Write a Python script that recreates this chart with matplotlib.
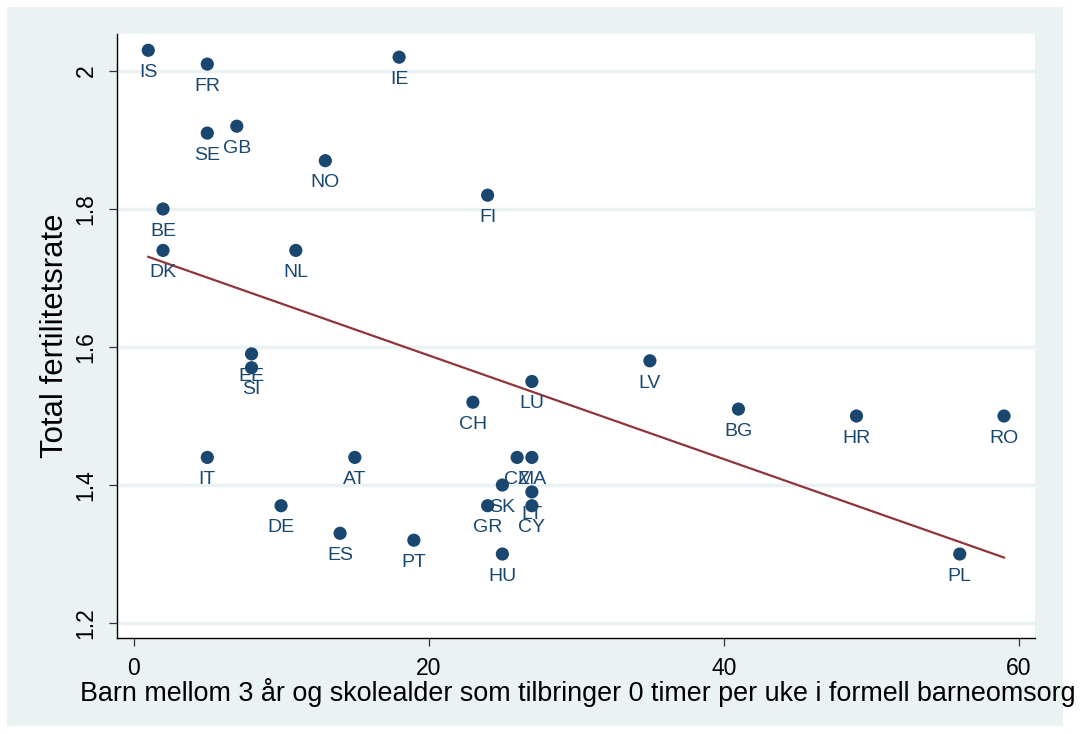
import numpy as np
import matplotlib
matplotlib.use("Agg")
import matplotlib.pyplot as plt
from matplotlib.patches import Rectangle

# Share of children (3 yrs to school age) with 0 hours/week of formal childcare
countries = ["IS", "FR", "IE", "SE", "GB", "NO", "FI", "BE", "DK", "NL",
             "EE", "SI", "LV", "LU", "CH", "BG", "HR", "RO", "IT", "AT",
             "CZ", "MA", "DE", "ES", "PT", "SK", "GR", "LT", "CY", "HU", "PL"]
no_childcare = [1, 5, 18, 5, 7, 13, 24, 2, 2, 11,
                8, 8, 35, 27, 23, 41, 49, 59, 5, 15,
                26, 27, 10, 14, 19, 25, 24, 27, 27, 25, 56]
fertility = [2.03, 2.01, 2.02, 1.91, 1.92, 1.87, 1.82, 1.80, 1.74, 1.74,
             1.59, 1.57, 1.58, 1.55, 1.52, 1.51, 1.50, 1.50, 1.44, 1.44,
             1.44, 1.44, 1.37, 1.33, 1.32, 1.40, 1.37, 1.39, 1.37, 1.30, 1.30]

x_ticks = [0, 20, 40, 60]
y_ticks = [1.2, 1.4, 1.6, 1.8, 2.0]
y_tick_labels = ["1.2", "1.4", "1.6", "1.8", "2"]

NAVY = "#1a476f"
MAROON = "#90353b"
PANEL = "#eaf2f3"

plt.rcParams["font.family"] = ["Liberation Sans", "DejaVu Sans"]

W, H = 1080, 734
fig = plt.figure(figsize=(W / 100, H / 100), dpi=100)
fig.patch.set_facecolor("white")

# outer graph region
fig.add_artist(Rectangle((7 / W, 1 - 726 / H), (1063 - 7) / W, (726 - 7) / H,
                         transform=fig.transFigure, facecolor=PANEL,
                         edgecolor="none", zorder=0))

ax = fig.add_axes([117 / W, 1 - 638 / H, (1035 - 117) / W, (638 - 34) / H])
ax.set_facecolor("white")
ax.set_zorder(1)

x = np.array(no_childcare, dtype=float)
y = np.array(fertility, dtype=float)

ax.scatter(x, y, s=90, color=NAVY, edgecolors="none", zorder=3)
for c, xi, yi in zip(countries, x, y):
    ax.annotate(c, (xi, yi), xytext=(0, -16), textcoords="offset points",
                ha="center", va="center", fontsize=14, color=NAVY, zorder=4)

# linear fit
b, a = np.polyfit(x, y, 1)
xf = np.array([x.min(), x.max()])
ax.plot(xf, a + b * xf, color=MAROON, lw=1.6, zorder=2)

ax.set_xlim(-1.12, 61.1)
ax.set_ylim(1.1783, 2.0536)
ax.set_xticks(x_ticks)
ax.set_yticks(y_ticks)
ax.set_yticklabels(y_tick_labels)
ax.grid(axis="y", color=PANEL, lw=2.5, zorder=0)
ax.set_axisbelow(True)

for s in ["top", "right"]:
    ax.spines[s].set_visible(False)
for s in ["left", "bottom"]:
    ax.spines[s].set_color("black")
    ax.spines[s].set_linewidth(1.0)

ax.tick_params(axis="both", length=6, width=0.9, color="#333333",
               labelsize=16.5, pad=8)
for lab in ax.get_yticklabels():
    lab.set_rotation(90)
    lab.set_va("center")

ax.set_ylabel("Total fertilitetsrate", fontsize=22.4)
ax.yaxis.set_label_coords(-0.0675, 0.5)
ax.yaxis.label.set_va("center")
ax.set_xlabel("Barn mellom 3 år og skolealder som tilbringer 0 timer per uke i formell barneomsorg",
              fontsize=19.4)
ax.xaxis.set_label_coords(0.5016, -0.091)
ax.xaxis.label.set_va("center")

fig.savefig("out.png", dpi=100, facecolor=fig.get_facecolor())
